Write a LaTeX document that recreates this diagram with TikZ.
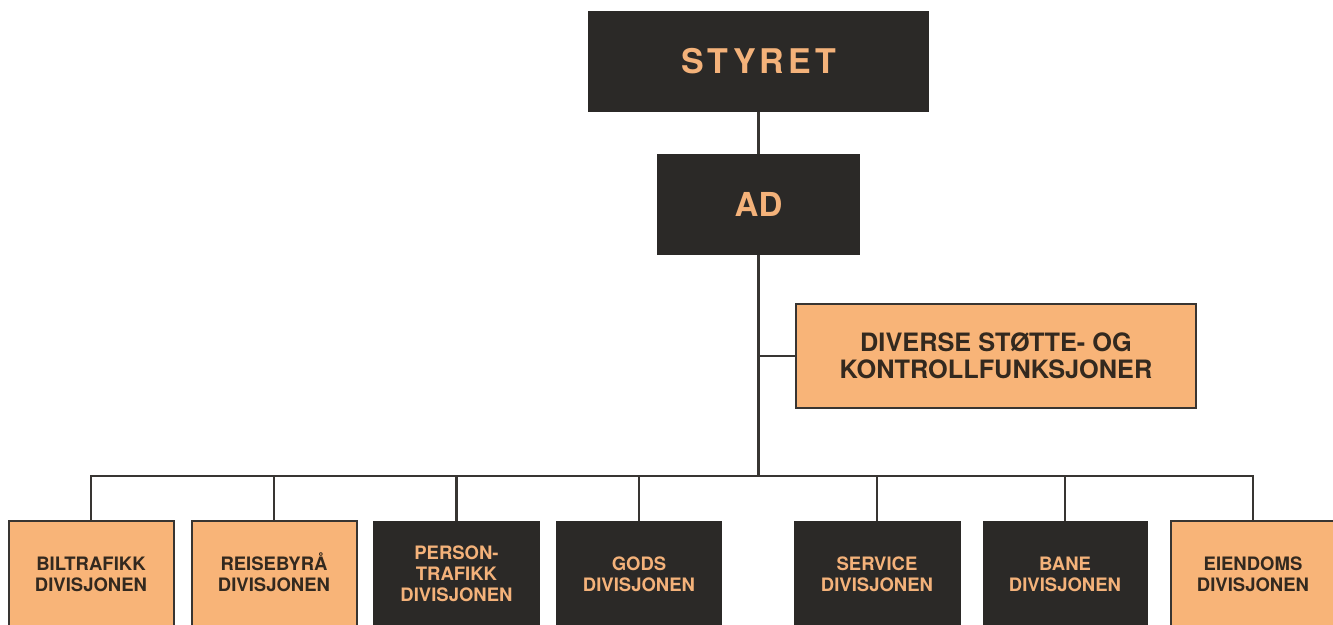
\documentclass[tikz,border=0pt]{standalone}
\usepackage{fontspec}
\setmainfont{TeX Gyre Heros}
\newfontfamily\spacedfont[LetterSpace=12]{TeX Gyre Heros}
\definecolor{darkbox}{HTML}{2B2927}
\definecolor{orangebox}{HTML}{F8B478}
\definecolor{orangetext}{HTML}{F4B27A}
\definecolor{darktext}{HTML}{33291F}
\definecolor{linecol}{HTML}{383532}
\begin{document}
\begin{tikzpicture}[x=1pt,y=-1pt,
  darkstyle/.style={rectangle, fill=darkbox, text=orangetext, inner sep=0pt, align=center, font=\bfseries},
  orangestyle/.style={rectangle, fill=orangebox, draw=linecol, line width=2pt, text=darktext, inner sep=0pt, align=center, font=\bfseries},
  bottomsize/.style={minimum width=165pt, minimum height=106pt, font=\bfseries\fontsize{18.5}{21}\selectfont},
  conn/.style={draw=linecol, line width=2.2pt}]
\useasboundingbox (0,0) rectangle (1333,624);
\clip (0,0) rectangle (1333,624);
\node[darkstyle, minimum width=341pt, minimum height=101pt, font=\spacedfont\bfseries\fontsize{34}{40}\selectfont] (styret) at (758.5,61.5) {STYRET};
\node[darkstyle, minimum width=203pt, minimum height=101pt, font=\bfseries\fontsize{33}{40}\selectfont] (ad) at (758.5,204.5) {AD};
\node[orangestyle, minimum width=400pt, minimum height=104pt, font=\bfseries\fontsize{25.3}{26.5}\selectfont] (div) at (996,356) {DIVERSE STØTTE- OG\\KONTROLLFUNKSJONER};
\node[orangestyle, bottomsize] (b1) at (91,574) {BILTRAFIKK\\DIVISJONEN};
\node[orangestyle, bottomsize] (b2) at (274,574) {REISEBYR\smash{Å}\\DIVISJONEN};
\node[darkstyle, bottomsize, minimum width=167pt] (b3) at (456.5,574) {PERSON-\\TRAFIKK\\DIVISJONEN};
\node[darkstyle, bottomsize, minimum width=166pt] (b4) at (639,574) {GODS\\DIVISJONEN};
\node[darkstyle, bottomsize, minimum width=167pt] (b5) at (877,574) {SERVICE\\DIVISJONEN};
\node[darkstyle, bottomsize, minimum width=165pt] (b6) at (1065,574) {BANE\\DIVISJONEN};
\node[orangestyle, bottomsize] (b7) at (1253,574) {EIENDOMS\\DIVISJONEN};
\coordinate (j) at (758.5,476);
\draw[conn] (styret.south) -- (ad.north);
\draw[conn] (ad.south) -- (j);
\draw[conn] (div.west) -- (div.west -| ad.south);
\draw[conn] (b1.north) |- (j) -| (b7.north);
\foreach \b in {b2,b3,b4,b5,b6} {\draw[conn] (\b.north) -- (\b.north |- j);}
\end{tikzpicture}
\end{document}
